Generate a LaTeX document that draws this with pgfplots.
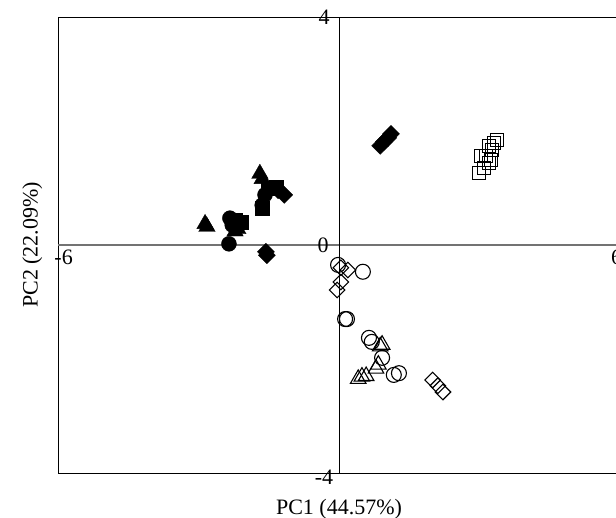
\documentclass[border=0pt]{standalone}
\usepackage{fontspec}
\setmainfont{Liberation Serif}
\usepackage{pgfplots}
\pgfplotsset{compat=1.18}
\begin{document}
\begin{tikzpicture}
\begin{axis}[
  scale only axis, width=562bp, height=456bp,
  xmin=-6, xmax=6, ymin=-4, ymax=4,
  xtick=\empty, ytick=\empty,
  axis line style={line width=0.8bp},
  clip=false,
]
\draw[black!55, line width=1.2bp] (axis cs:-6,0) -- (axis cs:6,0);
\draw[black, line width=0.8bp] (axis cs:0,-4) -- (axis cs:0,4);
% filled triangles
\addplot[only marks, mark=triangle*, mark size=9.5bp, black] coordinates {
(-2.86,0.37) (-2.82,0.32) (-1.69,1.25) (-1.64,1.16) (-2.16,0.28) (-2.22,0.24)};
% filled circles
\addplot[only marks, mark=*, mark size=7.5bp, black] coordinates {
(-2.35,0.02) (-2.33,0.47) (-2.28,0.35) (-1.58,0.88) (-1.64,0.70)};
% filled squares
\addplot[only marks, mark=square*, mark size=7bp, black] coordinates {
(-2.09,0.40) (-1.52,1.00) (-1.35,1.02) (-1.64,0.65) (-2.22,0.44)};
% filled diamonds
\addplot[only marks, mark=square*, mark size=6bp, black, mark options={rotate=45}] coordinates {
(-1.17,0.88) (-1.30,0.96) (-1.56,-0.12) (-1.54,-0.18)
(0.88,1.74) (0.96,1.81) (1.05,1.88) (1.11,1.95)};
% open squares
\addplot[only marks, mark=square, mark size=6.5bp, black, mark options={line width=1.1bp}] coordinates {
(2.99,1.26) (3.03,1.56) (3.14,1.56) (3.25,1.49) (3.27,1.67) (3.20,1.74) (3.31,1.79) (3.37,1.84) (3.20,1.44) (3.10,1.35)};
% open diamonds
\addplot[only marks, mark=square, mark size=5.5bp, black, mark options={rotate=45, line width=1.1bp}] coordinates {
(0.04,-0.40) (0.19,-0.44) (0.04,-0.65) (-0.04,-0.79) (2.00,-2.37) (2.11,-2.47) (2.22,-2.58)};
% open circles
\addplot[only marks, mark=o, mark size=7.5bp, black, mark options={line width=1.1bp}] coordinates {
(-0.02,-0.35) (0.51,-0.47) (0.13,-1.30) (0.17,-1.30) (0.64,-1.63) (0.70,-1.70) (0.92,-1.98) (1.17,-2.28) (1.28,-2.25)};
% open triangles
\addplot[only marks, mark=triangle, mark size=9bp, black, mark options={line width=1.1bp}] coordinates {
(0.92,-1.75) (0.88,-1.78) (0.41,-2.35) (0.49,-2.31) (0.58,-2.30) (0.79,-2.17) (0.84,-2.10)};
% tick labels
\node[font=\fontsize{22bp}{26bp}\selectfont] at (axis cs:-0.32,4.0) {4};
\node[font=\fontsize{22bp}{26bp}\selectfont] at (axis cs:-0.32,-4.07) {-4};
\node[font=\fontsize{22bp}{26bp}\selectfont] at (axis cs:-0.34,0.0) {0};
\node[font=\fontsize{22bp}{26bp}\selectfont] at (axis cs:-5.88,-0.22) {-6};
\node[font=\fontsize{22bp}{26bp}\selectfont] at (axis cs:5.93,-0.22) {6};
% axis labels
\node[font=\fontsize{22bp}{26bp}\selectfont] at (axis cs:0,-4.63) {PC1 (44.57\%)};
\node[font=\fontsize{22bp}{26bp}\selectfont, rotate=90] at (axis cs:-6.55,0) {PC2 (22.09\%)};
\coordinate (BL) at (axis cs:-7.239,-4.789);
\coordinate (TR) at (axis cs:5.915,4.298);
\end{axis}
\pgfresetboundingbox
\useasboundingbox (BL) rectangle (TR);
\end{tikzpicture}
\end{document}
